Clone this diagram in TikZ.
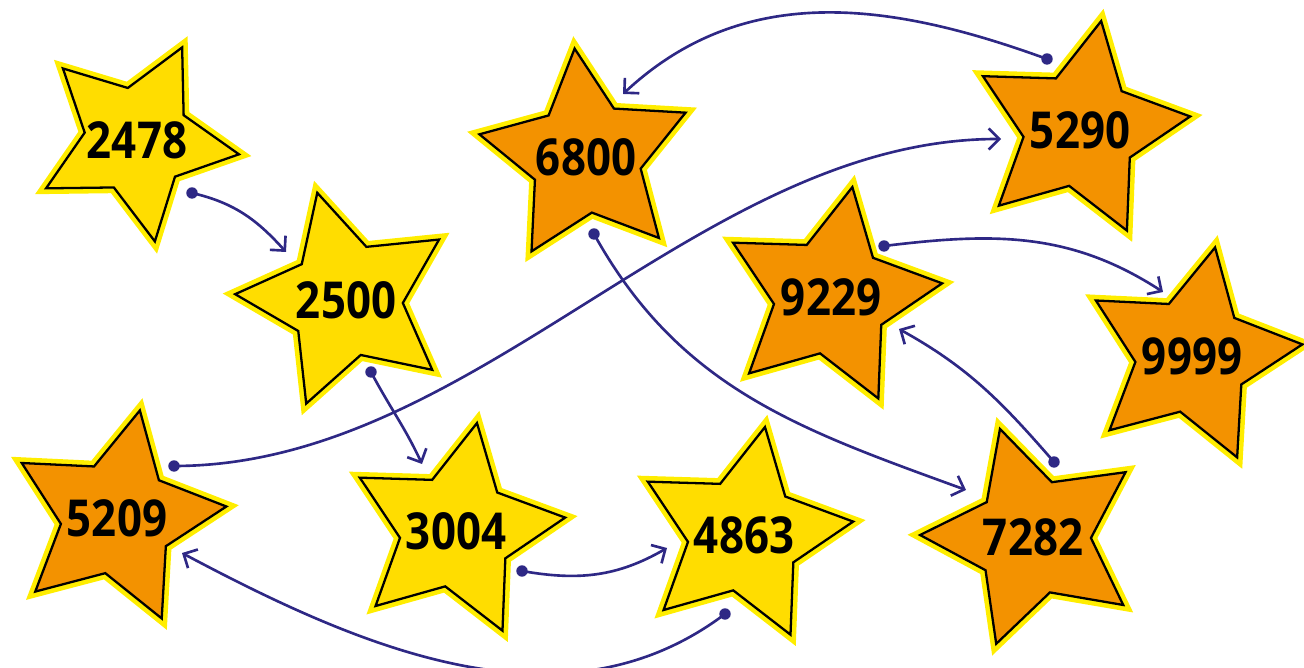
\documentclass[tikz,border=0pt]{standalone}
\usepackage{fontspec}
\usetikzlibrary{shapes.geometric, arrows.meta}
\newfontfamily\numfont[FakeStretch=0.86]{Open Sans}
\definecolor{staryellow}{RGB}{255,221,0}
\definecolor{starorange}{RGB}{243,146,0}
\definecolor{rimyellow}{RGB}{255,237,0}
\definecolor{inkblue}{RGB}{46,40,133}

\tikzset{
    starbox/.style={star, star points=5, star point ratio=1.95, inner sep=0pt,
        draw=black, line width=1.3pt, preaction={draw=rimyellow, line width=6.5pt}},
    numlabel/.style={font=\numfont\bfseries\fontsize{29}{29}\selectfont, text=black},
    startdot/.style={circle, fill=inkblue, inner sep=0pt, minimum size=6.5pt},
    link/.style={draw=inkblue, line width=1.5pt, -{Straight Barb[length=6pt,width=12pt]}}
}

\begin{document}
\begin{tikzpicture}[x=0.02cm, y=0.02cm]
    \useasboundingbox (0,0) rectangle (1304,668);

    % Stars
    \foreach \x/\y/\d/\r/\c/\n in {137/528/4.12/-26/staryellow/2478,
        346/368/4.44/15/staryellow/2500, 586/511/4.36/6/starorange/6800,
        1080/538/4.44/-11/starorange/5290, 831/371/4.48/-11/starorange/9229,
        1192/312/4.44/-12/starorange/9999, 117/150/4.4/-12/starorange/5209,
        456/137/4.4/-11/staryellow/3004, 744/133/4.4/-11/staryellow/4863,
        1033/131/4.52/17/starorange/7282} {
        \node[starbox, fill=\c, minimum size=\d cm, shape border rotate=\r] (s\n) at (\x,\y) {};
        \node[numlabel] at (s\n) {\n};
    }

    % Start dots and arrow ends
    \foreach \n/\x/\y in {a/192/475, b/371/296, c/522/97, d/725/54, e/174/202,
        f/594/434, g/1054/206, h/884/422, i/1047/609}
        \node[startdot] (d\n) at (\x,\y) {};
    \foreach \n/\x/\y in {a/286/416, b/422/204, c/667/120, d/182/115, e/1001/529,
        f/966/178, g/899/339, h/1163/376, i/623/574}
        \coordinate (t\n) at (\x,\y);

    % Links
    \draw[link] (da.center) to[out=-13, in=132] (ta);
    \draw[link] (db.center) to[out=-62, in=115] (tb);
    \draw[link] (dc.center) to[out=-10, in=-150] (tc);
    \draw[link] (dd.center) to[out=-143, in=-28, looseness=0.95] (td);
    \draw[link] (de.center) to[out=0, in=180, looseness=0.87] (te);
    \draw[link] (df.center) to[out=-61, in=160] (tf);
    \draw[link] (dg.center) to[out=131, in=-29] (tg);
    \draw[link] (dh.center) to[out=7, in=147] (th);
    \draw[link] (di.center) to[out=160, in=43] (ti);
\end{tikzpicture}
\end{document}
